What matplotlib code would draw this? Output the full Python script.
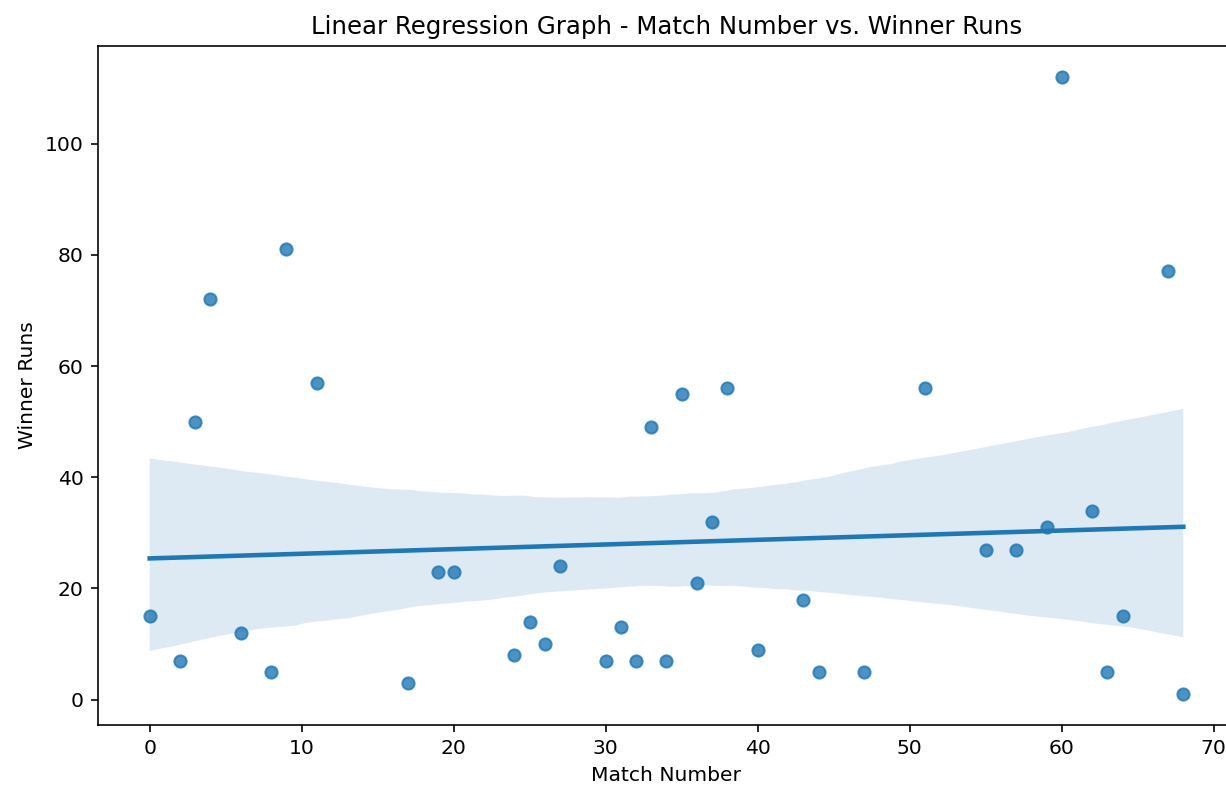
import numpy as np
import pandas as pd
import matplotlib
matplotlib.use("Agg")
import matplotlib.pyplot as plt
import seaborn as sns

# match number vs. runs of the winning side
match_number = [0, 2, 3, 4, 6, 8, 9, 11, 17, 19, 20, 24, 25, 26, 27, 30, 31, 32, 33,
                34, 35, 36, 37, 38, 40, 43, 44, 47, 51, 55, 57, 59, 60, 62, 63, 64, 67, 68]
winner_runs = [15, 7, 50, 72, 12, 5, 81, 57, 3, 23, 23, 8, 14, 10, 24, 7, 13, 7, 49,
               7, 55, 21, 32, 56, 9, 18, 5, 5, 56, 27, 27, 31, 112, 34, 5, 15, 77, 1]

df = pd.DataFrame({'Match Number': match_number, 'Winner Runs': winner_runs})

DPI = 146
fig = plt.figure(figsize=(1227 / DPI, 786 / DPI), dpi=DPI)
# right spine sits just outside the saved image, as in the reference
ax = fig.add_axes([98 / 1227, 61 / 786, 1137 / 1227, 679 / 786])

sns.regplot(data=df, x='Match Number', y='Winner Runs', ax=ax, ci=95, seed=3)

ax.set_title('Linear Regression Graph - Match Number vs. Winner Runs')
ax.set_xlabel('Match Number')
ax.set_ylabel('Winner Runs')

fig.savefig('out.png', dpi=DPI)
